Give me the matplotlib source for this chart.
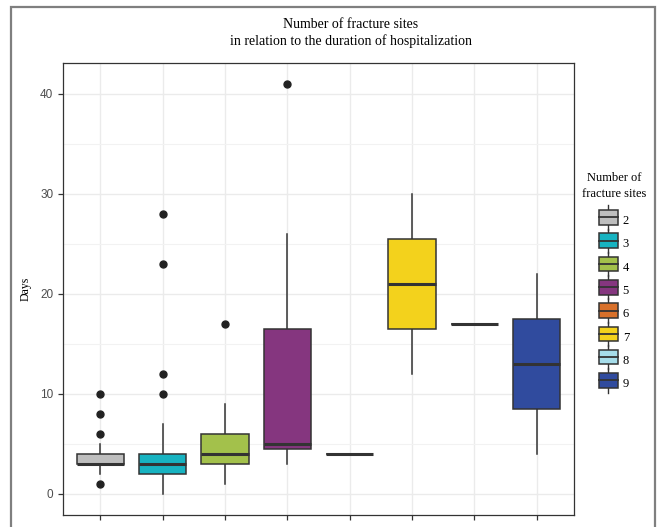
import matplotlib
matplotlib.use("Agg")
import matplotlib.pyplot as plt
from matplotlib.legend_handler import HandlerBase
from matplotlib.patches import Rectangle, Patch
from matplotlib.lines import Line2D

# number of fracture sites (groups)
sites = ['2', '3', '4', '5', '6', '7', '8', '9']

# box statistics (days)
q1 = [3, 2, 3, 4.5, 4, 16.5, 17, 8.5]
med = [3, 3, 4, 5, 4, 21, 17, 13]
q3 = [4, 4, 6, 16.5, 4, 25.5, 17, 17.5]
whislo = [2, 0, 1, 3, 4, 12, 17, 4]
whishi = [5, 7, 9, 26, 4, 30, 17, 22]
outliers = [[1, 6, 8, 10], [10, 12, 23, 28], [17], [41], [], [], [], []]

colors = ['#BEBEBE', '#17B3C1', '#A3C14B', '#85367F',
          '#D8702A', '#F3D21C', '#A6DDEA', '#304B9E']

edge = '#333333'
serif = 'Liberation Serif'

fig = plt.figure(figsize=(6.59, 5.27), dpi=100)
ax = fig.add_axes([63/659, 1 - 514.5/527, 511/659, 451.5/527])

stats = []
for i in range(len(sites)):
    stats.append(dict(label=sites[i], q1=q1[i], med=med[i], q3=q3[i],
                      whislo=whislo[i], whishi=whishi[i], fliers=outliers[i]))

pos = list(range(1, len(sites) + 1))
bp = ax.bxp(stats, positions=pos, widths=0.76, patch_artist=True,
            showfliers=True,
            boxprops=dict(edgecolor=edge, linewidth=1.1),
            medianprops=dict(color=edge, linewidth=2.2, solid_capstyle='butt'),
            whiskerprops=dict(color=edge, linewidth=1.1),
            capprops=dict(linewidth=0),
            flierprops=dict(marker='o', markerfacecolor='#222222',
                            markeredgecolor='#222222', markersize=5))
for patch, c in zip(bp['boxes'], colors):
    patch.set_facecolor(c)
for b in bp['boxes']:
    b.set_zorder(3)
for m in bp['medians']:
    m.set_zorder(4)

ax.set_xlim(0.4, len(sites) + 0.6)
ax.set_ylim(-2.05, 43.05)
ax.set_xticks(pos)
ax.set_xticklabels([''] * len(sites))
ax.set_yticks([0, 10, 20, 30, 40])
ax.set_yticks([5, 15, 25, 35], minor=True)
ax.grid(True, which='major', color='#EBEBEB', linewidth=1.0, zorder=0)
ax.grid(True, which='minor', axis='y', color='#F2F2F2', linewidth=0.8, zorder=0)
ax.set_axisbelow(True)
ax.tick_params(axis='both', which='major', length=3.5, width=0.9, color='#333333',
               labelsize=8.5, labelcolor='#4D4D4D')
ax.tick_params(axis='y', which='minor', length=0)
for lab in ax.get_yticklabels():
    lab.set_family('Liberation Sans')
for s in ax.spines.values():
    s.set_color('#333333')
    s.set_linewidth(0.9)

ax.set_ylabel('Days', family=serif, fontsize=8.5, labelpad=6)

fig.text(351/659, 1 - 33/527,
         'Number of fracture sites\nin relation to the duration of hospitalization',
         ha='center', va='center', family=serif, fontsize=10, linespacing=1.3)


class BoxHandler(HandlerBase):
    def create_artists(self, legend, orig_handle, xdescent, ydescent,
                       width, height, fontsize, trans):
        x0 = -xdescent
        y0 = -ydescent
        full = height + ydescent
        cx = x0 + width / 2
        whisk = Line2D([cx, cx], [y0, y0 + full],
                       color=edge, lw=1, transform=trans)
        box = Rectangle((x0, y0 + 0.2 * full), width, 0.6 * full,
                        facecolor=orig_handle.get_facecolor(), edgecolor=edge,
                        lw=1.1, transform=trans)
        mid = Line2D([x0, x0 + width], [y0 + full / 2] * 2, color=edge,
                     lw=1.3, transform=trans)
        return [whisk, box, mid]


handles = [Patch(facecolor=c) for c in colors]
leg = fig.legend(handles, sites, handler_map={Patch: BoxHandler()},
                 loc='center', bbox_to_anchor=(614/659, 1 - 282.5/527),
                 frameon=False, title='Number of\nfracture sites',
                 prop=dict(family=serif, size=9),
                 title_fontproperties=dict(family=serif, size=9),
                 handlelength=1.5, handleheight=1.95, labelspacing=0.35,
                 handletextpad=0.4, borderpad=0.1)
leg.get_title().set_multialignment('center')
leg.get_title().set_linespacing(1.35)
leg._legend_box.sep = 8

# outer frame around the whole figure
frame = Rectangle((11/659, -0.2), 644/659, 1.2 - 7/527, transform=fig.transFigure,
                  fill=False, edgecolor='#7F7F7F', linewidth=1.6, clip_on=False)
fig.patches.append(frame)

fig.savefig('out.png', dpi=100)
